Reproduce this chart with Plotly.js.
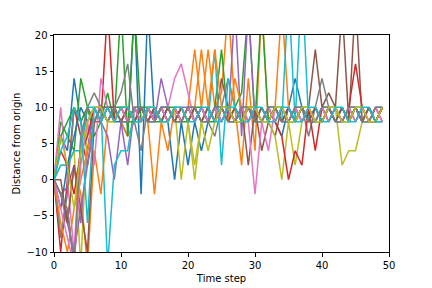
<!DOCTYPE html>
<html>
<head>
<meta charset="utf-8">
<script src="https://cdn.plot.ly/plotly-3.0.1.min.js"></script>
<style>html,body{margin:0;padding:0;background:#fff;}#chart{width:432px;height:288px;}</style>
</head>
<body>
<div id="chart"></div>
<script>
const timeSteps = [0,1,2,3,4,5,6,7,8,9,10,11,12,13,14,15,16,17,18,19,20,21,22,23,24,25,26,27,28,29,30,31,32,33,34,35,36,37,38,39,40,41,42,43,44,45,46,47,48,49];

const walkBlue1 = [0,6,4,14,8,4,10,8,10,8, 8,6,24,-2,24,8,10,8,0,8, 2,8,4,8,10,8,10,8,10,8, 10,8,10,8,6,10,14,10,8,10, 8,10,8,10,8,10,8,10,8,10];
const walkOrange1 = [0,-2,-6,2,-2,-12,4,-2,8,10, 8,6,8,10,8,-2,8,4,10,8, 10,18,10,18,10,12,24,10,2,14, 4,24,8,10,24,10,8,10,8,10, 8,10,8,10,8,10,8,10,8,10];
const walkGreen1 = [0,8,6,4,14,10,6,8,12,8, 24,6,24,8,10,8,10,8,10,8, 10,8,10,8,10,18,8,10,12,24, 8,24,8,10,8,10,8,10,8,10, 8,10,8,10,8,10,8,10,8,10];
const walkRed1 = [0,-10,0,10,6,2,8,8,24,8, 10,10,8,10,8,10,8,10,8,10, 8,10,8,10,8,10,8,10,8,10, 8,10,8,10,8,10,8,10,8,10, 8,10,8,10,8,10,8,10,8,10];
const walkPurple1 = [0,-2,-1,2,-6,4,10,8,6,0, 8,2,10,8,10,8,14,10,8,10, 8,10,8,10,8,10,8,24,6,24, 8,10,8,10,8,10,8,10,8,10, 8,10,8,10,8,10,8,10,8,10];
const walkBrown1 = [0,-8,-4,-12,4,10,8,10,8,10, 8,10,8,10,8,10,8,10,8,10, 8,10,8,10,8,14,10,8,10,2, 10,4,8,6,10,8,10,8,10,18, 10,12,10,24,8,25,8,10,8,10];
const walkPink1 = [0,10,0,-10,6,8,2,14,10,8, 10,8,10,8,10,8,10,10,14,16, 12,8,10,8,10,8,10,8,10,8, -2,8,4,10,8,10,8,10,8,10, 8,10,8,10,8,10,8,10,8,10];
const walkGray1 = [0,-8,-2,10,8,10,12,10,8,10, 12,16,8,4,10,8,10,8,10,8, 10,8,10,8,6,10,14,10,8,10, 8,10,8,10,8,10,8,10,6,10, 14,10,8,10,8,10,8,10,8,8];
const walkOlive1 = [0,2,2,4,-12,8,10,10,8,8, 10,10,8,8,10,10,8,8,10,0, 8,0,8,10,8,10,8,10,8,10, 8,10,8,6,0,8,2,8,10,8, 10,8,10,2,4,4,8,10,8,10];
const walkCyan1 = [0,2,2,4,4,10,10,10,-12,2, 4,4,10,8,10,8,10,8,10,8, 10,8,10,8,18,2,14,10,8,10, 8,10,8,10,8,26,8,28,8,10, 8,10,8,10,8,10,8,10,8,10];
const walkBlue2 = [0,-4,2,6,10,8,10,8,10,10, 8,8,10,10,8,8,10,10,8,8, 10,10,8,8,10,10,8,8,10,10, 8,8,10,10,8,8,10,10,8,8, 10,10,8,8,10,10,8,8,10,10];
const walkOrange2 = [0,-6,-10,-4,0,4,8,10,8,10, 8,10,8,10,8,10,8,10,8,10, 8,10,18,10,18,10,8,14,10,8, 10,8,10,8,10,8,10,8,10,8, 10,8,10,8,10,8,10,8,10,8];
const walkGreen2 = [0,6,8,10,8,10,8,10,8,10, 10,8,8,10,10,8,8,10,10,8, 8,10,10,8,8,10,10,8,8,10, 10,8,8,10,10,8,8,10,10,8, 8,10,10,8,8,10,10,8,8,10];
const walkRed2 = [0,4,2,-2,4,6,10,8,10,8, 10,8,10,8,10,8,10,8,10,8, 10,8,10,8,10,8,10,8,10,8, 10,8,10,8,6,0,4,2,10,4, 10,8,10,8,10,16,10,8,8,10];
const walkPurple2 = [0,-2,-6,-10,-4,2,8,10,8,10, 8,10,8,10,8,10,8,10,8,10, 10,8,10,8,10,8,10,8,10,8, 10,8,10,8,10,8,10,8,10,8, 10,8,10,8,10,8,10,8,10,8];
const walkBrown2 = [0,0,-6,2,-4,-10,8,10,10,10, 8,10,8,10,8,10,8,10,8,10, 8,10,8,10,8,10,8,10,8,10, 8,10,8,10,8,10,8,10,8,10, 8,10,8,10,8,10,8,10,8,10];
const walkPink2 = [0,-4,-8,-12,2,8,10,8,10,8, 10,8,10,8,10,8,10,8,10,8, 10,8,10,8,10,8,10,8,10,8, 10,8,10,8,10,8,10,8,10,8, 10,8,10,8,10,8,10,8,10,8];
const walkGray2 = [0,-2,-4,-12,6,10,8,10,8,10, 8,8,10,10,8,8,10,10,8,8, 10,10,8,8,10,10,8,8,10,10, 8,8,10,10,8,8,10,10,8,8, 10,10,8,8,10,10,8,8,10,10];
const walkOlive2 = [0,6,2,-4,4,8,10,10,8,8, 10,10,8,8,10,10,8,8,10,10, 8,2,8,4,8,10,10,8,8,10, 10,8,8,10,10,8,8,10,10,8, 8,10,10,8,8,10,10,8,8,10];
const walkCyan2 = [0,4,6,10,8,-6,10,8,10,8, 10,10,8,8,10,10,8,8,10,10, 8,8,10,10,8,8,10,10,8,8, 10,10,8,8,10,10,8,8,10,10, 8,8,10,10,8,8,10,10,8,8];

const walks = [walkBlue1, walkOrange1, walkGreen1, walkRed1, walkPurple1, walkBrown1, walkPink1, walkGray1, walkOlive1, walkCyan1,
               walkBlue2, walkOrange2, walkGreen2, walkRed2, walkPurple2, walkBrown2, walkPink2, walkGray2, walkOlive2, walkCyan2];
const palette = ['#1f77b4','#ff7f0e','#2ca02c','#d62728','#9467bd','#8c564b','#e377c2','#7f7f7f','#bcbd22','#17becf'];

const xTicks = [0,10,20,30,40,50];
const yTicks = [-10,-5,0,5,10,15,20];

const traces = walks.map((w, i) => ({
  x: timeSteps, y: w, type: 'scatter', mode: 'lines',
  line: {color: palette[i % 10], width: 1.5},
  showlegend: false, hoverinfo: 'skip'
}));

const font = {family: 'DejaVu Sans, sans-serif', size: 10, color: '#000'};
const axisCommon = {
  showgrid: false, zeroline: false, showline: true, linecolor: '#000', linewidth: 1,
  mirror: true, ticks: 'outside', ticklen: 3.5, tickwidth: 1, tickcolor: '#000',
  tickfont: font
};

const layout = {
  width: 432, height: 288,
  margin: {l: 54, r: 43, t: 35, b: 36, pad: 0},
  paper_bgcolor: '#fff', plot_bgcolor: '#fff',
  font: font,
  xaxis: Object.assign({}, axisCommon, {range: [0, 50], tickvals: xTicks, ticktext: xTicks.map(String),
    title: {text: 'Time step', font: font, standoff: 5}}),
  yaxis: Object.assign({}, axisCommon, {range: [-10, 20], tickvals: yTicks,
    ticktext: yTicks.map(v => v < 0 ? '\u2212' + Math.abs(v) : String(v)),
    title: {text: 'Distance from origin', font: font, standoff: 3}}),
  showlegend: false
};

Plotly.newPlot('chart', traces, layout, {staticPlot: true, displayModeBar: false});
</script>
</body>
</html>
